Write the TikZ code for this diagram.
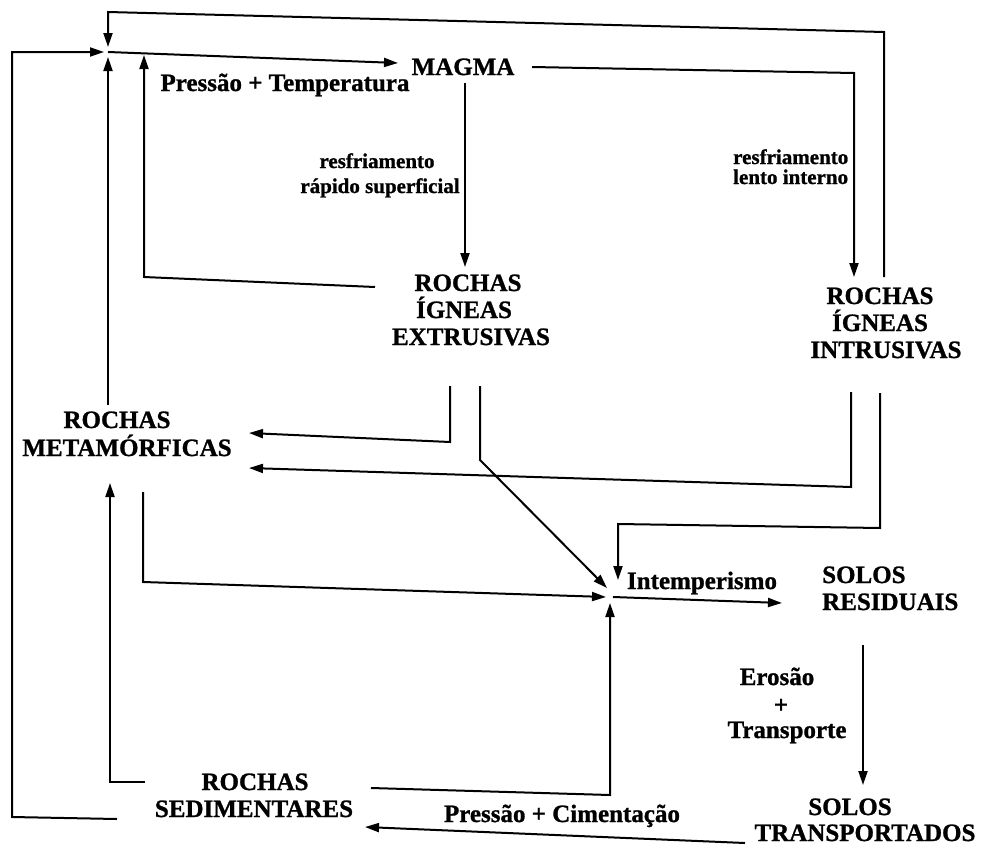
\documentclass[tikz,border=0pt]{standalone}
\usepackage{fontspec}
\setmainfont{Liberation Serif}[BoldFeatures={FakeBold=1}]
\usetikzlibrary{arrows.meta}
\begin{document}
\begin{tikzpicture}[x=1pt,y=-1pt,
  big/.style={font=\bfseries\fontsize{25}{27}\selectfont, inner sep=0pt, anchor=base},
  small/.style={font=\bfseries\fontsize{21}{21}\selectfont, inner sep=0pt, anchor=base},
  flow/.style={line width=2pt, line join=miter, -{Triangle[length=14pt,width=9pt]}}]
\path[use as bounding box, fill=white] (0,0) rectangle (986,846);

% ---- labels ----
\node[big] (magma) at (463,75) {MAGMA};
\node[big] (pt) at (285,91) {Pressão + Temperatura};
\node[small] (rs1) at (377,168) {resfriamento};
\node[small] (rs2) at (380,193) {rápido superficial};
\node[small, anchor=base west] (ri1) at (733,164) {resfriamento};
\node[small, anchor=base west] (ri2) at (733,184) {lento interno};
\node[big] (ext1) at (468,291) {ROCHAS};
\node[big] (ext2) at (464,318) {ÍGNEAS};
\node[big] (ext3) at (471,345) {EXTRUSIVAS};
\node[big] (int1) at (880,304) {ROCHAS};
\node[big] (int2) at (880,331) {ÍGNEAS};
\node[big] (int3) at (886,358) {INTRUSIVAS};
\node[big] (met1) at (117,428) {ROCHAS};
\node[big] (met2) at (127,456) {METAMÓRFICAS};
\node[big] (intemp) at (702,589) {Intemperismo};
\node[big, anchor=base west] (res1) at (822,583) {SOLOS};
\node[big, anchor=base west] (res2) at (822,610) {RESIDUAIS};
\node[big] (ero1) at (777,685) {Erosão};
\node[big] (ero2) at (781,713) {+};
\node[big] (ero3) at (787,738) {Transporte};
\node[big] (tra1) at (850,815) {SOLOS};
\node[big] (tra2) at (865,841) {TRANSPORTADOS};
\node[big] (pc) at (562,822) {Pressão + Cimentação};
\node[big] (sed1) at (255,790) {ROCHAS};
\node[big] (sed2) at (254,817) {SEDIMENTARES};

% ---- junctions ----
\coordinate (hubA) at (108,52);
\coordinate (hubB) at (610,597);

% ---- connectors ----
% Intrusivas -> top loop -> hub A
\draw[flow] (884,277) -- (884,32) -- (108,12) -- (108,47);
% hub A -> Magma
\draw[flow] (hubA) -- (398,63);
% Extrusivas -> hub A
\draw[flow] (375,287) -- (144,277) -- (144,55);
% Sedimentares -> outer left -> hub A
\draw[flow] (117,819) -- (12,817) -- (12,52) -- (104,52);
% Metamorficas -> hub A
\draw[flow] (108,405) -- (108,57);
% Magma -> Intrusivas
\draw[flow] (532,67) -- (854,73) -- (854,277);
% Magma -> Extrusivas
\draw[flow] (465,83) -- (465,267);
% Extrusivas -> Metamorficas
\draw[flow] (450,386) -- (450,442) -- (249,433);
% Intrusivas -> Metamorficas
\draw[flow] (851,392) -- (851,487) -- (249,468);
% Extrusivas -> hub B
\draw[flow] (480,386) -- (480,460) -- (607,588);
% Intrusivas -> hub B
\draw[flow] (880,393) -- (880,528) -- (618,524) -- (618,580);
% Metamorficas -> hub B
\draw[flow] (143,492) -- (143,582) -- (606,597);
% Sedimentares -> hub B
\draw[flow] (371,788) -- (610,795) -- (610,603);
% hub B -> Solos residuais
\draw[flow] (613,597) -- (782,603);
% Sedimentares -> Metamorficas
\draw[flow] (145,782) -- (110,782) -- (110,483);
% Solos residuais -> Solos transportados
\draw[flow] (863,645) -- (863,785);
% Solos transportados -> Sedimentares
\draw[flow] (745,843) -- (365,827);
\end{tikzpicture}
\end{document}
